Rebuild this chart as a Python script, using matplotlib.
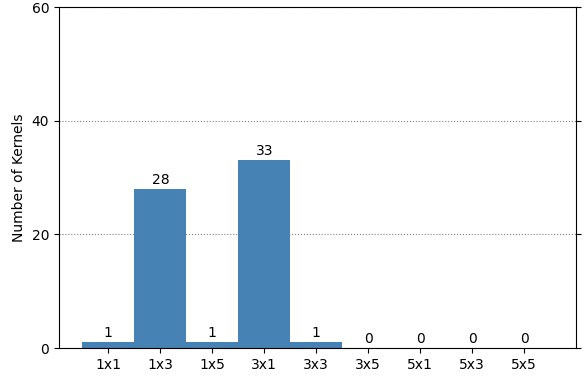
import matplotlib
matplotlib.use("Agg")
import matplotlib.pyplot as plt

kernels = ['1x1', '1x3', '1x5', '3x1', '3x3', '3x5', '5x1', '5x3', '5x5']
counts = [1, 28, 1, 33, 1, 0, 0, 0, 0]

fig = plt.figure(figsize=(5.86, 3.86), dpi=100)
ax = fig.add_axes([0.1007, 0.0984, 0.8823, 0.8834])
x = range(len(kernels))
ax.bar(x, counts, width=1.0, color='steelblue', zorder=2)
for i, c in zip(x, counts):
    ax.text(i, c + 0.4, str(c), ha='center', va='bottom', fontsize=10)
ax.set_xticks(list(x))
ax.set_xticklabels(kernels)
ax.set_xlim(-0.95, 9.0)
ax.set_ylim(0, 60)
ax.set_yticks([0, 20, 40, 60])
ax.set_ylabel('Number of Kernels')
ax.yaxis.grid(True, linestyle=':', color='gray', zorder=0)
ax.tick_params(axis='y', right=True)
fig.savefig('out.png', dpi=100)
